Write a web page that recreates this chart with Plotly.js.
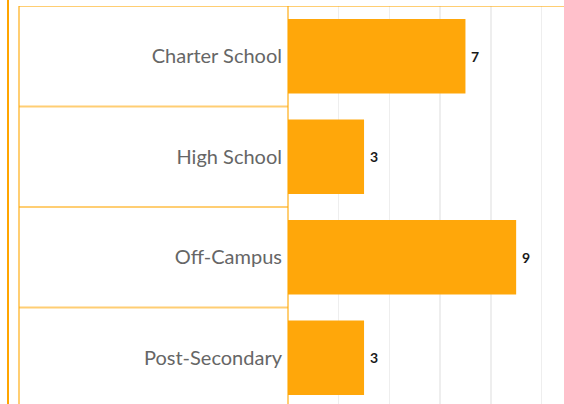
<!DOCTYPE html>
<html>
<head>
<meta charset="utf-8">
<script src="https://cdn.plot.ly/plotly-3.0.1.min.js"></script>
<style>html,body{margin:0;padding:0;overflow:hidden;background:#fff}#chart{width:564px;height:404px}</style>
</head>
<body>
<div id="chart"></div>
<script>
var categories = ["Charter School", "High School", "Off-Campus", "Post-Secondary"];
var counts = [7, 3, 9, 3];

var W = 564, H = 404;
var marginL = 288, marginT = 6;
var plotW = W - marginL, plotH = H - marginT;
var rowPx = 100.5;
var unitPx = 25.35;
var xMax = plotW / unitPx;
var yVisible = plotH / rowPx;

var shapes = [];
var boxX0 = (19 - marginL) / plotW;
var boxColor = "rgba(255,165,0,0.55)";
// top border across full width
shapes.push({type: "line", xref: "paper", yref: "y", x0: boxX0, x1: 1, y0: -0.5, y1: -0.5,
  line: {color: boxColor, width: 2}, layer: "above"});
// row separators only in the label box
for (var i = 1; i <= categories.length; i++) {
  shapes.push({type: "line", xref: "paper", yref: "y", x0: boxX0, x1: 0, y0: i - 0.5, y1: i - 0.5,
    line: {color: boxColor, width: 2}, layer: "above"});
}
shapes.push({type: "line", xref: "paper", yref: "y", x0: boxX0, x1: boxX0, y0: -0.5, y1: categories.length - 0.5,
  line: {color: boxColor, width: 2}});
shapes.push({type: "line", xref: "paper", yref: "y", x0: 0, x1: 0, y0: -0.5, y1: categories.length - 0.5,
  line: {color: boxColor, width: 2}, layer: "above"});
var outerX = (8 - marginL) / plotW;
shapes.push({type: "line", xref: "paper", yref: "paper", x0: outerX, x1: outerX, y0: -0.1, y1: 1.1,
  line: {color: "#FFA500", width: 2}});

var yPos = categories.map(function(c, i){ return i; });

var trace = {
  type: "bar",
  orientation: "h",
  x: counts,
  y: yPos,
  marker: {color: "#FFA70A"},
  width: 0.74,
  hoverinfo: "none"
};

var annotations = counts.map(function(v, i){
  return {x: v, y: yPos[i], xref: "x", yref: "y", text: String(v), showarrow: false,
    xanchor: "left", yanchor: "middle", xshift: 4,
    font: {family: "Lato, 'Open Sans', sans-serif", size: 14, color: "#1a1a1a", weight: 700}};
});

var layout = {
  width: W, height: H,
  margin: {l: marginL, r: 0, t: marginT, b: 0, pad: 0},
  paper_bgcolor: "#fff", plot_bgcolor: "#fff",
  showlegend: false,
  xaxis: {range: [0, xMax], dtick: 2, showgrid: true, gridcolor: "#eeeeee", gridwidth: 1.5,
    zeroline: false, showticklabels: false, ticks: "", showline: false, fixedrange: true},
  yaxis: {range: [-0.5 + yVisible, -0.5], tickmode: "array",
    tickvals: yPos, ticktext: categories,
    showgrid: false, zeroline: false, ticks: "", showline: false,
    tickfont: {family: "Lato, 'Open Sans', sans-serif", size: 20, color: "#666666"},
    ticklabelstandoff: 5, fixedrange: true},
  shapes: shapes,
  annotations: annotations
};

Plotly.newPlot("chart", [trace], layout, {displayModeBar: false, staticPlot: true});
</script>
</body>
</html>
